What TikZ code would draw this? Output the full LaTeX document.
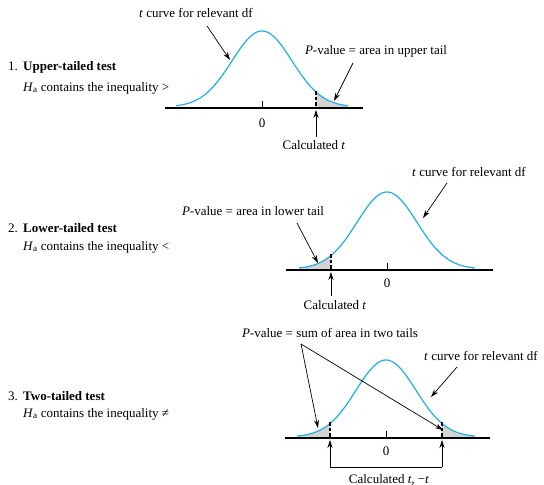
\documentclass[tikz,border=0pt]{standalone}
\usepackage{fontspec}
\setmainfont{Liberation Serif}
\usetikzlibrary{arrows.meta}

\definecolor{curveblue}{RGB}{30,175,230}
\definecolor{tailgray}{RGB}{212,212,212}

\tikzset{
  axisline/.style={line width=1.3pt},
  tcurve/.style={curveblue, line width=1.2pt},
  tailfill/.style={fill=tailgray},
  cutline/.style={dashed, line width=1.1pt, dash pattern=on 3.5pt off 2pt},
  pointer/.style={-{Stealth[length=8pt,width=5pt]}, line width=0.7pt},
  lbl/.style={font=\fontsize{13}{15}\selectfont, inner sep=0pt},
}

\begin{document}
\begin{tikzpicture}[x=1pt, y=-1pt]
\useasboundingbox (0,0) rectangle (544,485);

% 1. upper-tailed
\node[lbl, anchor=west] (title1) at (8,67) {\makebox[15pt][l]{1.}\textbf{Upper-tailed test}};
\node[lbl, anchor=west] (ha1) at (23,88) {\textit{H}\textsubscript{a} contains the inequality >};
\begin{scope}[shift={(262,108)}]
  \fill[tailfill] (54,0) -- plot[domain=54:86, samples=20] ({\x},{-1-76*exp(-(\x/30)^2/2)}) -- (86,0) -- cycle;
  \draw[tcurve] plot[domain=-86:86, samples=90] ({\x},{-1-76*exp(-(\x/30)^2/2)});
  \draw[axisline] (-97,0) -- (101,0);
  \draw[line width=0.8pt] (0,-7) -- (0,0);
  \draw[cutline] (54,-17) -- (54,0);
  \coordinate (tip1) at (54,2);
\end{scope}
\node[lbl] (zero1) at (262,123) {0};
\node[lbl] (calc1) at (314,145) {Calculated \textit{t}};
\node[lbl] (curve1) at (196,13) {\textit{t} curve for relevant df};
\node[lbl] (pval1) at (376,51) {\textit{P}-value = area in upper tail};
\coordinate (c1from) at (207,26);
\coordinate (c1to) at (230,60);
\coordinate (p1from) at (353,63);
\coordinate (p1to) at (334,101);
\coordinate (t1from) at (316,137);
\draw[pointer] (c1from) -- (c1to);
\draw[pointer] (p1from) -- (p1to);
\draw[pointer] (t1from) -- (tip1);

% 2. lower-tailed
\node[lbl, anchor=west] (title2) at (8,228) {\makebox[15pt][l]{2.}\textbf{Lower-tailed test}};
\node[lbl, anchor=west] (ha2) at (23,247) {\textit{H}\textsubscript{a} contains the inequality <};
\begin{scope}[shift={(387,270)}]
  \fill[tailfill] (-88,0) -- plot[domain=-88:-56, samples=20] ({\x},{-1-77*exp(-(\x/30)^2/2)}) -- (-56,0) -- cycle;
  \draw[tcurve] plot[domain=-88:88, samples=90] ({\x},{-1-77*exp(-(\x/30)^2/2)});
  \draw[axisline] (-101,0) -- (106,0);
  \draw[line width=0.8pt] (0,-7) -- (0,0);
  \draw[cutline] (-56,-16) -- (-56,0);
  \coordinate (tip2) at (-56,2);
\end{scope}
\node[lbl] (zero2) at (387,283) {0};
\node[lbl] (calc2) at (335,305) {Calculated \textit{t}};
\node[lbl] (curve2) at (469,172) {\textit{t} curve for relevant df};
\node[lbl] (pval2) at (253,211) {\textit{P}-value = area in lower tail};
\coordinate (c2from) at (447,183);
\coordinate (c2to) at (423,218);
\coordinate (p2from) at (297,223);
\coordinate (p2to) at (318,263);
\coordinate (t2from) at (331,296);
\draw[pointer] (c2from) -- (c2to);
\draw[pointer] (p2from) -- (p2to);
\draw[pointer] (t2from) -- (tip2);

% 3. two-tailed
\node[lbl, anchor=west] (title3) at (8,396) {\makebox[15pt][l]{3.}\textbf{Two-tailed test}};
\node[lbl, anchor=west] (ha3) at (23,414) {\textit{H}\textsubscript{a} contains the inequality ≠};
\begin{scope}[shift={(386,438)}]
  \fill[tailfill] (-89,0) -- plot[domain=-89:-56, samples=20] ({\x},{-1-77*exp(-(\x/30)^2/2)}) -- (-56,0) -- cycle;
  \fill[tailfill] (56,0) -- plot[domain=56:89, samples=20] ({\x},{-1-77*exp(-(\x/30)^2/2)}) -- (89,0) -- cycle;
  \draw[tcurve] plot[domain=-89:89, samples=90] ({\x},{-1-77*exp(-(\x/30)^2/2)});
  \draw[axisline] (-101,0) -- (104,0);
  \draw[line width=0.8pt] (0,-7) -- (0,0);
  \draw[cutline] (-56,-16) -- (-56,0);
  \draw[cutline] (56,-16) -- (56,0);
  \coordinate (tip3l) at (-56,2);
  \coordinate (tip3r) at (56,2);
  \coordinate (foot3l) at (-56,29);
  \coordinate (foot3r) at (56,29);
\end{scope}
\node[lbl] (zero3) at (386,451) {0};
\node[lbl] (calc3) at (389,480) {Calculated \textit{t}, −\textit{t}};
\node[lbl] (curve3) at (481,356) {\textit{t} curve for relevant df};
\node[lbl] (pval3) at (330,333) {\textit{P}-value = sum of area in two tails};
\coordinate (c3from) at (457,367);
\coordinate (c3to) at (431,397);
\coordinate (p3from) at (301,344);
\coordinate (p3l) at (318,428);
\coordinate (p3r) at (443,430);
\draw[pointer] (c3from) -- (c3to);
\draw[pointer] (p3from) -- (p3l);
\draw[pointer] (p3from) -- (p3r);
\draw[pointer] (foot3l) -- (tip3l);
\draw[pointer] (foot3r) -- (tip3r);
\draw[line width=0.7pt] (foot3l) -- (foot3r);
\end{tikzpicture}
\end{document}
